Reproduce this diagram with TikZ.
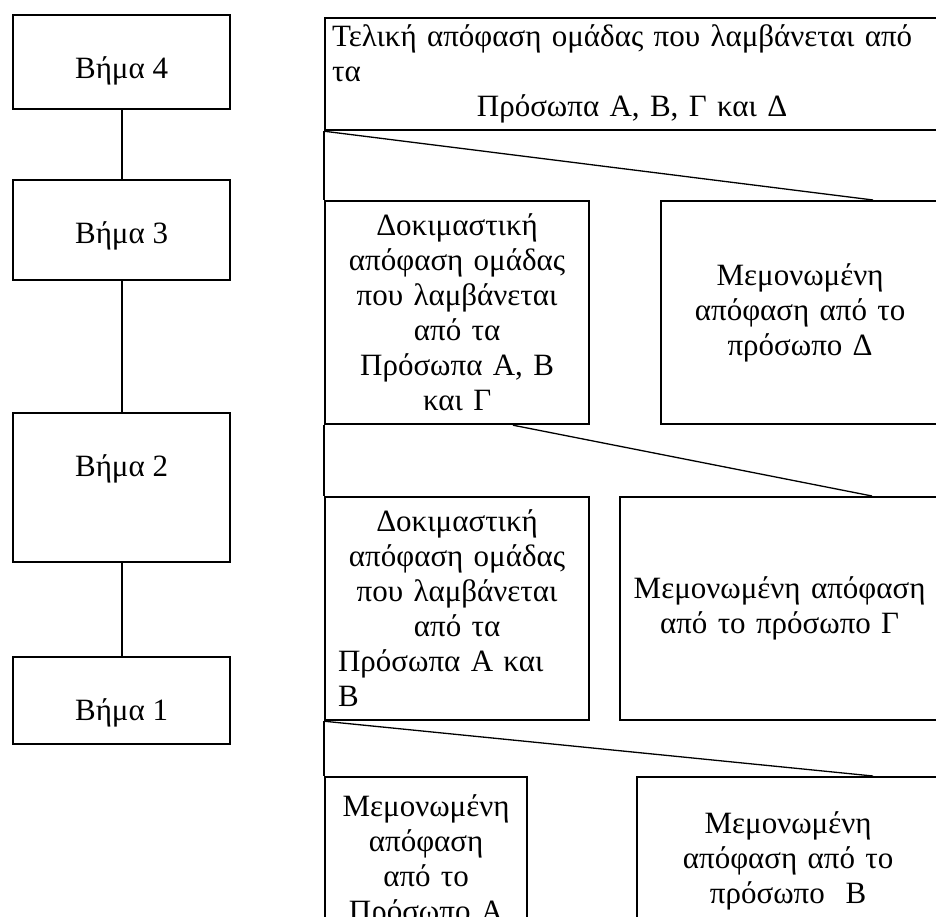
\documentclass[tikz,border=0pt]{standalone}
\usepackage{fontspec}
\setmainfont{Liberation Serif}
\usetikzlibrary{calc}
\begin{document}
\begin{tikzpicture}[x=1pt,y=-1pt,
  bigfont/.style={font=\fontsize{31}{35}\selectfont},
  stepbox/.style={draw, line width=2.2pt, inner sep=0pt, minimum width=217pt, anchor=north west},
  steplabel/.style={bigfont, inner sep=0pt},
  panel/.style={draw, line width=2.2pt, inner sep=0pt, anchor=north west, bigfont},
  link/.style={line width=2.2pt},
  slant/.style={line width=1.3pt},
]
\useasboundingbox (0,0) rectangle (936,917);
\clip (0,0) rectangle (936,917);

% stages on the left
\node[stepbox, minimum height=94pt]  (s4) at (12,14)  {};
\node[stepbox, minimum height=100pt] (s3) at (12,179) {};
\node[stepbox, minimum height=149pt] (s2) at (12,412) {};
\node[stepbox, minimum height=87pt]  (s1) at (12,656) {};
\node[steplabel] (s4t) at ([yshift=-57pt]s4.north) {Βήμα 4};
\node[steplabel] (s3t) at ([yshift=-57pt]s3.north) {Βήμα 3};
\node[steplabel] (s2t) at ([yshift=-57pt]s2.north) {Βήμα 2};
\node[steplabel] (s1t) at ([yshift=-57pt]s1.north) {Βήμα 1};
\draw[link] (s4.south) -- (s3.north);
\draw[link] (s3.south) -- (s2.north);
\draw[link] (s2.south) -- (s1.north);

% decision tree on the right
\node[panel, minimum width=614pt, minimum height=112pt, text width=600pt, align=left] (top) at (324,17)
  {Τελική απόφαση ομάδας που λαμβάνεται από\\τα\par\centering Πρόσωπα Α, Β, Γ και Δ\par};

\node[panel, minimum width=264pt, minimum height=223pt, text width=238pt, align=center] (dok3) at (324,200)
  {Δοκιμαστική\\απόφαση ομάδας\\που λαμβάνεται\\από τα\\Πρόσωπα Α, Β\\και Γ};
\node[panel, minimum width=278pt, minimum height=223pt, text width=252pt, align=center] (memD) at (660,200)
  {Μεμονωμένη\\απόφαση από το\\πρόσωπο Δ};

\node[panel, minimum width=264pt, minimum height=223pt, text width=238pt, align=center] (dok2) at (324,496)
  {Δοκιμαστική\\απόφαση ομάδας\\που λαμβάνεται\\από τα\par\raggedright Πρόσωπα Α και\\Β\par};
\node[panel, minimum width=319pt, minimum height=223pt, text width=300pt, align=center] (memG) at (619,496)
  {Μεμονωμένη απόφαση\\από το πρόσωπο Γ};

\node[panel, minimum width=202pt, minimum height=168pt, text width=190pt, align=center] (memA) at (324,776)
  {Μεμονωμένη\\απόφαση\\από το\\Πρόσωπο Α};
\node[panel, minimum width=302pt, minimum height=168pt, text width=276pt, align=center] (memB) at (636,776)
  {Μεμονωμένη\\απόφαση από το\\πρόσωπο\ \ Β};

% spine joining the rows
\draw[link] (top.south west) -- (dok3.north west);
\draw[link] (dok3.south west) -- (dok2.north west);
\draw[link] (dok2.south west) -- (memA.north west);

% slanted links between rows
\draw[slant] (top.south west) -- ($(memD.north west)+(213,0)$);
\draw[slant] ($(dok3.south west)+(189,0)$) -- ($(memG.north west)+(253,0)$);
\draw[slant] (dok2.south west) -- ($(memB.north west)+(237,0)$);
\end{tikzpicture}
\end{document}
